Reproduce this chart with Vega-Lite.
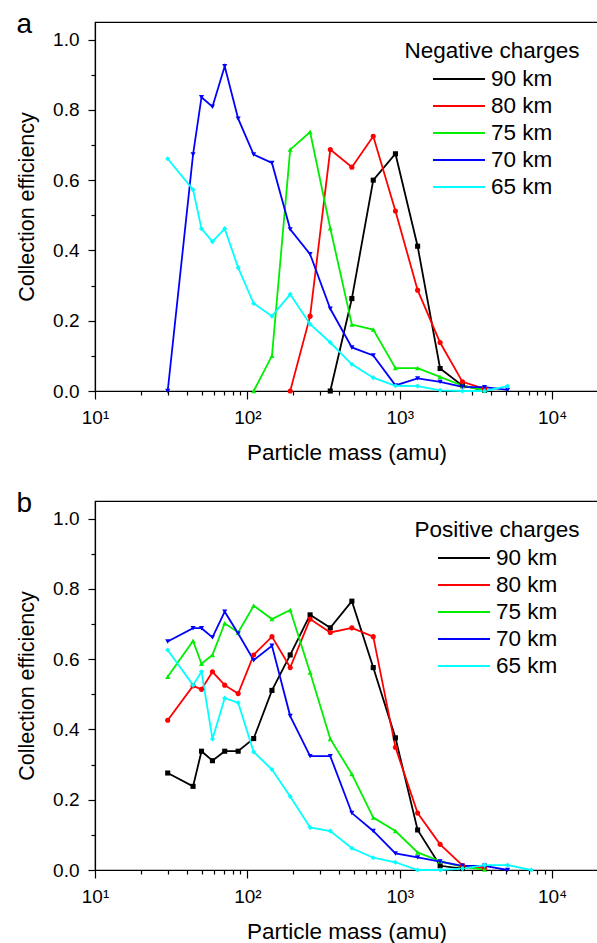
{
  "$schema": "https://vega.github.io/schema/vega-lite/v6.json",
  "padding": {"left": 15, "right": 1, "top": 10, "bottom": 3},
  "spacing": 24,
  "config": {
    "font": "Liberation Sans",
    "view": {"stroke": "#000", "strokeWidth": 1.2},
    "axis": {"grid": false, "domainColor": "#000", "tickColor": "#000", "labelColor": "#000", "titleColor": "#000", "labelFontSize": 19, "titleFontSize": 22, "titleFontWeight": "normal", "domainWidth": 1.2, "tickWidth": 1.2},
    "title": {"fontWeight": "normal", "fontSize": 28, "anchor": "start", "frame": "bounds", "color": "#000"},
    "legend": {"orient": "top-right", "offset": 18, "titleFontSize": 22.5, "titleFontWeight": "normal", "titleColor": "#000", "titleAnchor": "middle", "labelFontSize": 22.5, "labelColor": "#000", "symbolType": "stroke", "symbolSize": 2700, "symbolStrokeWidth": 2, "clipHeight": 21, "rowPadding": 4, "titlePadding": 6, "labelOffset": 5}
  },
  "datasets": {
    "neg": [
      {"alt": "90 km", "mass": 350, "eff": 0}, {"alt": "90 km", "mass": 485, "eff": 0.263}, {"alt": "90 km", "mass": 670, "eff": 0.600}, {"alt": "90 km", "mass": 937, "eff": 0.675}, {"alt": "90 km", "mass": 1310, "eff": 0.412}, {"alt": "90 km", "mass": 1840, "eff": 0.064}, {"alt": "90 km", "mass": 2580, "eff": 0.015}, {"alt": "90 km", "mass": 3600, "eff": 0.002},
      {"alt": "80 km", "mass": 191, "eff": 0}, {"alt": "80 km", "mass": 258, "eff": 0.213}, {"alt": "80 km", "mass": 350, "eff": 0.687}, {"alt": "80 km", "mass": 485, "eff": 0.637}, {"alt": "80 km", "mass": 670, "eff": 0.725}, {"alt": "80 km", "mass": 937, "eff": 0.512}, {"alt": "80 km", "mass": 1310, "eff": 0.287}, {"alt": "80 km", "mass": 1840, "eff": 0.138}, {"alt": "80 km", "mass": 2580, "eff": 0.026}, {"alt": "80 km", "mass": 3600, "eff": 0.006},
      {"alt": "75 km", "mass": 110, "eff": 0}, {"alt": "75 km", "mass": 145, "eff": 0.100}, {"alt": "75 km", "mass": 191, "eff": 0.687}, {"alt": "75 km", "mass": 258, "eff": 0.737}, {"alt": "75 km", "mass": 350, "eff": 0.463}, {"alt": "75 km", "mass": 485, "eff": 0.189}, {"alt": "75 km", "mass": 670, "eff": 0.175}, {"alt": "75 km", "mass": 937, "eff": 0.065}, {"alt": "75 km", "mass": 1310, "eff": 0.065}, {"alt": "75 km", "mass": 1840, "eff": 0.040}, {"alt": "75 km", "mass": 2580, "eff": 0.015}, {"alt": "75 km", "mass": 3600, "eff": 0.002},
      {"alt": "70 km", "mass": 30, "eff": 0}, {"alt": "70 km", "mass": 44, "eff": 0.673}, {"alt": "70 km", "mass": 50, "eff": 0.836}, {"alt": "70 km", "mass": 59, "eff": 0.809}, {"alt": "70 km", "mass": 71, "eff": 0.924}, {"alt": "70 km", "mass": 87, "eff": 0.775}, {"alt": "70 km", "mass": 110, "eff": 0.673}, {"alt": "70 km", "mass": 145, "eff": 0.649}, {"alt": "70 km", "mass": 191, "eff": 0.460}, {"alt": "70 km", "mass": 258, "eff": 0.389}, {"alt": "70 km", "mass": 350, "eff": 0.234}, {"alt": "70 km", "mass": 485, "eff": 0.124}, {"alt": "70 km", "mass": 670, "eff": 0.101}, {"alt": "70 km", "mass": 937, "eff": 0.016}, {"alt": "70 km", "mass": 1310, "eff": 0.036}, {"alt": "70 km", "mass": 1840, "eff": 0.026}, {"alt": "70 km", "mass": 2580, "eff": 0.012}, {"alt": "70 km", "mass": 3600, "eff": 0.011}, {"alt": "70 km", "mass": 5100, "eff": 0.003},
      {"alt": "65 km", "mass": 30, "eff": 0.661}, {"alt": "65 km", "mass": 44, "eff": 0.573}, {"alt": "65 km", "mass": 50, "eff": 0.462}, {"alt": "65 km", "mass": 59, "eff": 0.425}, {"alt": "65 km", "mass": 71, "eff": 0.462}, {"alt": "65 km", "mass": 87, "eff": 0.351}, {"alt": "65 km", "mass": 110, "eff": 0.249}, {"alt": "65 km", "mass": 145, "eff": 0.213}, {"alt": "65 km", "mass": 191, "eff": 0.275}, {"alt": "65 km", "mass": 258, "eff": 0.190}, {"alt": "65 km", "mass": 350, "eff": 0.138}, {"alt": "65 km", "mass": 485, "eff": 0.076}, {"alt": "65 km", "mass": 670, "eff": 0.038}, {"alt": "65 km", "mass": 937, "eff": 0.015}, {"alt": "65 km", "mass": 1310, "eff": 0.014}, {"alt": "65 km", "mass": 1840, "eff": 0.002}, {"alt": "65 km", "mass": 2580, "eff": 0}, {"alt": "65 km", "mass": 3600, "eff": 0}, {"alt": "65 km", "mass": 5100, "eff": 0.014}
    ],
    "pos": [
      {"alt": "90 km", "mass": 30, "eff": 0.276}, {"alt": "90 km", "mass": 44, "eff": 0.238}, {"alt": "90 km", "mass": 50, "eff": 0.338}, {"alt": "90 km", "mass": 59, "eff": 0.311}, {"alt": "90 km", "mass": 71, "eff": 0.338}, {"alt": "90 km", "mass": 87, "eff": 0.338}, {"alt": "90 km", "mass": 110, "eff": 0.374}, {"alt": "90 km", "mass": 145, "eff": 0.511}, {"alt": "90 km", "mass": 191, "eff": 0.612}, {"alt": "90 km", "mass": 258, "eff": 0.726}, {"alt": "90 km", "mass": 350, "eff": 0.689}, {"alt": "90 km", "mass": 485, "eff": 0.765}, {"alt": "90 km", "mass": 670, "eff": 0.576}, {"alt": "90 km", "mass": 937, "eff": 0.376}, {"alt": "90 km", "mass": 1310, "eff": 0.114}, {"alt": "90 km", "mass": 1840, "eff": 0.012}, {"alt": "90 km", "mass": 2580, "eff": 0.004},
      {"alt": "80 km", "mass": 30, "eff": 0.426}, {"alt": "80 km", "mass": 44, "eff": 0.524}, {"alt": "80 km", "mass": 50, "eff": 0.514}, {"alt": "80 km", "mass": 59, "eff": 0.564}, {"alt": "80 km", "mass": 71, "eff": 0.526}, {"alt": "80 km", "mass": 87, "eff": 0.502}, {"alt": "80 km", "mass": 110, "eff": 0.612}, {"alt": "80 km", "mass": 145, "eff": 0.664}, {"alt": "80 km", "mass": 191, "eff": 0.576}, {"alt": "80 km", "mass": 258, "eff": 0.714}, {"alt": "80 km", "mass": 350, "eff": 0.676}, {"alt": "80 km", "mass": 485, "eff": 0.689}, {"alt": "80 km", "mass": 670, "eff": 0.664}, {"alt": "80 km", "mass": 937, "eff": 0.349}, {"alt": "80 km", "mass": 1310, "eff": 0.162}, {"alt": "80 km", "mass": 1840, "eff": 0.073}, {"alt": "80 km", "mass": 2580, "eff": 0.013}, {"alt": "80 km", "mass": 3600, "eff": 0.005},
      {"alt": "75 km", "mass": 30, "eff": 0.550}, {"alt": "75 km", "mass": 44, "eff": 0.652}, {"alt": "75 km", "mass": 50, "eff": 0.587}, {"alt": "75 km", "mass": 59, "eff": 0.612}, {"alt": "75 km", "mass": 71, "eff": 0.702}, {"alt": "75 km", "mass": 87, "eff": 0.676}, {"alt": "75 km", "mass": 110, "eff": 0.752}, {"alt": "75 km", "mass": 145, "eff": 0.714}, {"alt": "75 km", "mass": 191, "eff": 0.740}, {"alt": "75 km", "mass": 258, "eff": 0.562}, {"alt": "75 km", "mass": 350, "eff": 0.373}, {"alt": "75 km", "mass": 485, "eff": 0.273}, {"alt": "75 km", "mass": 670, "eff": 0.149}, {"alt": "75 km", "mass": 937, "eff": 0.111}, {"alt": "75 km", "mass": 1310, "eff": 0.050}, {"alt": "75 km", "mass": 1840, "eff": 0.025}, {"alt": "75 km", "mass": 2580, "eff": 0.009}, {"alt": "75 km", "mass": 3600, "eff": 0.001},
      {"alt": "70 km", "mass": 30, "eff": 0.650}, {"alt": "70 km", "mass": 44, "eff": 0.688}, {"alt": "70 km", "mass": 50, "eff": 0.688}, {"alt": "70 km", "mass": 59, "eff": 0.662}, {"alt": "70 km", "mass": 71, "eff": 0.735}, {"alt": "70 km", "mass": 87, "eff": 0.673}, {"alt": "70 km", "mass": 110, "eff": 0.597}, {"alt": "70 km", "mass": 145, "eff": 0.638}, {"alt": "70 km", "mass": 191, "eff": 0.438}, {"alt": "70 km", "mass": 258, "eff": 0.324}, {"alt": "70 km", "mass": 350, "eff": 0.324}, {"alt": "70 km", "mass": 485, "eff": 0.162}, {"alt": "70 km", "mass": 670, "eff": 0.111}, {"alt": "70 km", "mass": 937, "eff": 0.047}, {"alt": "70 km", "mass": 1310, "eff": 0.036}, {"alt": "70 km", "mass": 1840, "eff": 0.024}, {"alt": "70 km", "mass": 2580, "eff": 0.012}, {"alt": "70 km", "mass": 3600, "eff": 0.012}, {"alt": "70 km", "mass": 5100, "eff": 0},
      {"alt": "65 km", "mass": 30, "eff": 0.626}, {"alt": "65 km", "mass": 44, "eff": 0.526}, {"alt": "65 km", "mass": 50, "eff": 0.564}, {"alt": "65 km", "mass": 59, "eff": 0.373}, {"alt": "65 km", "mass": 71, "eff": 0.489}, {"alt": "65 km", "mass": 87, "eff": 0.476}, {"alt": "65 km", "mass": 110, "eff": 0.336}, {"alt": "65 km", "mass": 145, "eff": 0.286}, {"alt": "65 km", "mass": 191, "eff": 0.209}, {"alt": "65 km", "mass": 258, "eff": 0.121}, {"alt": "65 km", "mass": 350, "eff": 0.111}, {"alt": "65 km", "mass": 485, "eff": 0.062}, {"alt": "65 km", "mass": 670, "eff": 0.035}, {"alt": "65 km", "mass": 937, "eff": 0.022}, {"alt": "65 km", "mass": 1310, "eff": 0}, {"alt": "65 km", "mass": 1840, "eff": 0}, {"alt": "65 km", "mass": 2580, "eff": 0.004}, {"alt": "65 km", "mass": 3600, "eff": 0.014}, {"alt": "65 km", "mass": 5100, "eff": 0.014}, {"alt": "65 km", "mass": 7300, "eff": 0}
    ]
  },
  "resolve": {"legend": {"color": "independent"}},
  "vconcat": [
    {
      "width": 503, "height": 369,
      "title": {"text": "a", "dy": 21},
      "data": {"name": "neg"},
      "encoding": {
        "x": {"field": "mass", "type": "quantitative", "scale": {"type": "log", "domain": [10, 20000], "nice": false},
          "axis": {"orient": "bottom", "title": "Particle mass (amu)", "titleFontSize": 22.5, "values": [10,20,30,40,50,60,70,80,90,100,200,300,400,500,600,700,800,900,1000,2000,3000,4000,5000,6000,7000,8000,9000,10000,20000],
            "labelExpr": "datum.value == 10 ? '10¹' : datum.value == 100 ? '10²' : datum.value == 1000 ? '10³' : datum.value == 10000 ? '10⁴' : ''",
            "labelOverlap": false, "labelFlush": false, "labelPadding": 9, "titlePadding": 14,
            "tickSize": {"condition": {"test": "indexof([10,100,1000,10000], datum.value) >= 0", "value": 8}, "value": 4}}},
        "y": {"field": "eff", "type": "quantitative", "scale": {"domain": [0, 1.05], "nice": false},
          "axis": {"orient": "left", "title": "Collection efficiency", "titleFontSize": 21.5, "values": [0,0.1,0.2,0.3,0.4,0.5,0.6,0.7,0.8,0.9,1.0],
            "labelExpr": "round(datum.value*10) % 2 == 0 ? format(datum.value, '.1f') : ''", "labelOverlap": false, "labelFlush": false, "labelPadding": 9, "titlePadding": 14,
            "tickSize": {"condition": {"test": "round(datum.value*10) % 2 == 0", "value": 7}, "value": 4}}},
        "color": {"field": "alt", "type": "nominal", "sort": ["90 km", "80 km", "75 km", "70 km", "65 km"],
          "scale": {"domain": ["90 km", "80 km", "75 km", "70 km", "65 km"], "range": ["#000000", "#ff0000", "#00ee00", "#0000ff", "#00ffff"]},
          "legend": {"title": "Negative charges"}}
      },
      "layer": [
        {
          "mark": {"type": "line", "strokeWidth": 1.8},
          "encoding": {"order": {"field": "mass", "type": "quantitative"}}
        },
        {
          "mark": {"type": "point", "filled": true, "size": 26, "opacity": 1},
          "encoding": {
            "shape": {"field": "alt", "type": "nominal", "scale": {"domain": ["90 km", "80 km", "75 km", "70 km", "65 km"], "range": ["square", "circle", "triangle-up", "triangle-down", "diamond"]}, "legend": null}
          }
        }
      ]
    },
    {
      "width": 503, "height": 369,
      "title": {"text": "b", "dy": 21},
      "data": {"name": "pos"},
      "encoding": {
        "x": {"field": "mass", "type": "quantitative", "scale": {"type": "log", "domain": [10, 20000], "nice": false},
          "axis": {"orient": "bottom", "title": "Particle mass (amu)", "titleFontSize": 22.5, "values": [10,20,30,40,50,60,70,80,90,100,200,300,400,500,600,700,800,900,1000,2000,3000,4000,5000,6000,7000,8000,9000,10000,20000],
            "labelExpr": "datum.value == 10 ? '10¹' : datum.value == 100 ? '10²' : datum.value == 1000 ? '10³' : datum.value == 10000 ? '10⁴' : ''",
            "labelOverlap": false, "labelFlush": false, "labelPadding": 9, "titlePadding": 14,
            "tickSize": {"condition": {"test": "indexof([10,100,1000,10000], datum.value) >= 0", "value": 8}, "value": 4}}},
        "y": {"field": "eff", "type": "quantitative", "scale": {"domain": [0, 1.05], "nice": false},
          "axis": {"orient": "left", "title": "Collection efficiency", "titleFontSize": 21.5, "values": [0,0.1,0.2,0.3,0.4,0.5,0.6,0.7,0.8,0.9,1.0],
            "labelExpr": "round(datum.value*10) % 2 == 0 ? format(datum.value, '.1f') : ''", "labelOverlap": false, "labelFlush": false, "labelPadding": 9, "titlePadding": 14,
            "tickSize": {"condition": {"test": "round(datum.value*10) % 2 == 0", "value": 7}, "value": 4}}},
        "color": {"field": "alt", "type": "nominal", "sort": ["90 km", "80 km", "75 km", "70 km", "65 km"],
          "scale": {"domain": ["90 km", "80 km", "75 km", "70 km", "65 km"], "range": ["#000000", "#ff0000", "#00ee00", "#0000ff", "#00ffff"]},
          "legend": {"title": "Positive charges"}}
      },
      "layer": [
        {
          "mark": {"type": "line", "strokeWidth": 1.8},
          "encoding": {"order": {"field": "mass", "type": "quantitative"}}
        },
        {
          "mark": {"type": "point", "filled": true, "size": 26, "opacity": 1},
          "encoding": {
            "shape": {"field": "alt", "type": "nominal", "scale": {"domain": ["90 km", "80 km", "75 km", "70 km", "65 km"], "range": ["square", "circle", "triangle-up", "triangle-down", "diamond"]}, "legend": null}
          }
        }
      ]
    }
  ]
}
